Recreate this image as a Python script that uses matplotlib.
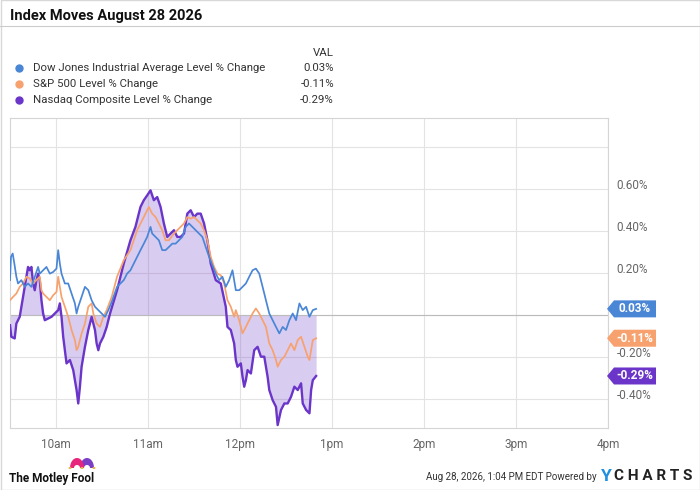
import matplotlib
matplotlib.use("Agg")
import numpy as np
import matplotlib.pyplot as plt
import matplotlib.transforms as mtransforms
from matplotlib.patches import Polygon, Rectangle, Circle
from matplotlib.lines import Line2D

plt.rcParams['font.family'] = ['Roboto', 'DejaVu Sans']

# minutes after 9:30 and % change
dow_min = [0, 0.65, 1.75, 2.84, 4.15, 5.24, 7.42, 9.6, 11.78, 13.96, 16.15, 18.33, 19.42, 21.6, 23.78,
           25.97, 28.15, 30.33, 31.42, 32.51, 33.6, 35.78, 37.97, 40.15, 42.33, 43.42, 44.51, 46.69,
           48.88, 51.06, 53.24, 55.42, 57.6, 59.79, 61.97, 64.15, 66.33, 69.82, 74.19, 76.37, 78.55,
           80.73, 82.91, 85.1, 87.28, 89.46, 91.64, 92.73, 94.92, 97.1, 99.28, 101.46, 103.64, 105.83,
           108.0, 110.19, 112.37, 114.55, 116.73, 118.92, 121.1, 123.28, 125.46, 127.64, 129.83, 132.0,
           134.19, 136.37, 138.55, 140.73, 142.92, 145.1, 147.28, 149.46, 151.65, 153.83, 156.01,
           158.19, 160.37, 162.56, 164.74, 166.92, 169.1, 171.28, 173.47, 175.65, 177.83, 180.01,
           182.19, 184.38, 186.56, 188.74, 190.92, 193.1, 195.29, 197.47, 199.65]
dow_pct = [0.167, 0.278, 0.294, 0.246, 0.183, 0.151, 0.167, 0.135, 0.151, 0.135, 0.183, 0.230, 0.198,
           0.214, 0.230, 0.198, 0.206, 0.222, 0.310, 0.246, 0.198, 0.151, 0.151, 0.103, 0.056, 0.008,
           0.040, 0.087, 0.135, 0.119, 0.071, 0.040, 0.024, 0.008, -0.008, 0.024, 0.063, 0.135, 0.167,
           0.198, 0.214, 0.246, 0.278, 0.310, 0.341, 0.373, 0.421, 0.389, 0.373, 0.357, 0.310, 0.310,
           0.325, 0.341, 0.341, 0.357, 0.373, 0.421, 0.437, 0.421, 0.405, 0.389, 0.373, 0.325, 0.278,
           0.238, 0.198, 0.167, 0.183, 0.135, 0.167, 0.214, 0.119, 0.119, 0.135, 0.151, 0.183, 0.214,
           0.222, 0.198, 0.135, 0.071, 0.008, -0.024, -0.056, -0.087, -0.056, -0.071, -0.024, 0.008,
           -0.024, 0.056, 0.024, 0.040, -0.008, 0.024, 0.03]

spx_min = [0, 1.96, 4.15, 6.33, 8.51, 10.69, 12.87, 15.06, 17.24, 19.42, 20.51, 21.6, 23.78, 25.97,
           28.15, 30.33, 31.42, 32.51, 33.6, 35.78, 37.97, 40.15, 42.33, 43.42, 44.51, 46.69, 48.88,
           51.06, 53.24, 54.33, 56.51, 58.69, 60.88, 63.06, 66.33, 69.82, 74.19, 78.55, 82.91, 87.28,
           90.55, 92.73, 94.92, 97.1, 99.28, 101.46, 103.64, 106.92, 109.1, 111.28, 113.46, 115.65,
           117.83, 120.01, 122.19, 124.37, 126.56, 128.74, 130.92, 133.1, 135.28, 137.47, 139.65,
           141.83, 144.01, 146.19, 147.28, 149.46, 151.65, 153.83, 156.01, 158.19, 160.37, 162.56,
           164.74, 166.92, 169.1, 171.28, 173.47, 174.56, 176.74, 178.92, 181.1, 183.28, 185.47,
           187.65, 189.83, 192.01, 194.19, 195.29, 196.38, 197.47, 199.65]
spx_pct = [0.071, 0.087, 0.103, 0.135, 0.151, 0.183, 0.175, 0.151, 0.167, 0.183, 0.119, 0.103, 0.087,
           0.071, 0.095, 0.111, 0.183, 0.135, 0.087, 0.040, -0.008, -0.071, -0.119, -0.167, -0.151,
           -0.087, -0.040, 0.040, 0.056, 0.008, -0.040, -0.056, -0.008, 0.024, 0.087, 0.183, 0.262,
           0.310, 0.405, 0.468, 0.516, 0.484, 0.468, 0.437, 0.405, 0.357, 0.357, 0.389, 0.405, 0.421,
           0.437, 0.468, 0.460, 0.468, 0.452, 0.437, 0.405, 0.357, 0.278, 0.230, 0.198, 0.190, 0.151,
           0.071, 0.040, -0.008, 0.024, -0.024, -0.087, -0.056, -0.024, 0.008, 0.032, 0.008, -0.024,
           -0.056, -0.135, -0.167, -0.214, -0.246, -0.214, -0.198, -0.167, -0.135, -0.167, -0.119,
           -0.103, -0.151, -0.198, -0.214, -0.167, -0.119, -0.11]

ndx_min = [0, 0.87, 3.05, 4.15, 6.33, 8.51, 10.69, 11.78, 12.87, 13.96, 15.06, 16.15, 17.24, 18.33,
           19.42, 20.51, 21.6, 22.69, 24.87, 27.06, 29.24, 31.42, 32.51, 33.6, 34.69, 35.78, 36.87,
           39.06, 41.24, 42.33, 43.42, 44.51, 45.6, 46.69, 48.88, 51.06, 53.24, 55.42, 56.51, 57.6,
           58.69, 60.88, 63.06, 65.24, 69.82, 74.19, 78.55, 81.82, 85.1, 87.28, 89.46, 91.64, 93.82,
           96.01, 98.19, 100.37, 102.55, 104.73, 106.92, 109.1, 111.28, 113.46, 115.65, 117.83,
           120.01, 122.19, 124.37, 126.56, 128.74, 130.92, 134.19, 137.47, 140.73, 141.83, 144.01,
           146.19, 147.28, 148.37, 150.55, 151.65, 152.74, 153.83, 154.92, 157.1, 159.28, 161.46,
           163.65, 165.83, 168.01, 169.1, 171.28, 173.47, 174.56, 176.74, 178.92, 181.1, 183.28,
           185.47, 187.65, 189.83, 190.92, 193.1, 195.29, 196.38, 197.47, 199.65]
ndx_pct = [-0.048, -0.103, -0.111, -0.040, -0.008, 0.087, 0.183, 0.230, 0.214, 0.230, 0.151, 0.119,
           0.167, 0.198, 0.167, 0.071, 0.008, -0.024, -0.016, -0.008, 0.008, 0.024, 0.056, -0.008,
           -0.103, -0.167, -0.230, -0.214, -0.262, -0.310, -0.357, -0.421, -0.341, -0.246, -0.151,
           -0.071, -0.008, -0.071, -0.135, -0.167, -0.135, -0.103, -0.056, 0.008, 0.119, 0.246, 0.357,
           0.421, 0.516, 0.548, 0.571, 0.595, 0.548, 0.563, 0.516, 0.437, 0.373, 0.389, 0.405, 0.373,
           0.373, 0.389, 0.484, 0.500, 0.468, 0.484, 0.484, 0.437, 0.357, 0.246, 0.167, 0.151, 0.040,
           -0.056, -0.071, -0.135, -0.214, -0.246, -0.230, -0.294, -0.341, -0.310, -0.262, -0.278,
           -0.167, -0.151, -0.198, -0.198, -0.294, -0.357, -0.405, -0.437, -0.524, -0.452, -0.421,
           -0.421, -0.389, -0.341, -0.357, -0.325, -0.421, -0.452, -0.468, -0.357, -0.310, -0.29]

names = ["Dow Jones Industrial Average Level % Change", "S&P 500 Level % Change",
         "Nasdaq Composite Level % Change"]
last_vals = ["0.03%", "-0.11%", "-0.29%"]
last_nums = [0.03, -0.11, -0.29]
colors = ["#4a86d6", "#f7a26e", "#6a35c8"]

hour_ticks = [30, 90, 150, 210, 270, 330, 390]
hour_labels = ["10am", "11am", "12pm", "1pm", "2pm", "3pm", "4pm"]
y_ticks = [-0.4, -0.2, 0.0, 0.2, 0.4, 0.6, 0.8]
y_labels = ["-0.40%", "-0.20%", "", "0.20%", "0.40%", "0.60%", ""]

W, H = 700, 490
fig = plt.figure(figsize=(7, 4.9), dpi=100)

def px(x, y):
    # image pixel (from top-left) -> figure fraction
    return x / W, 1 - y / H

# outer border + title rule
fig.add_artist(Rectangle((0.5 / W, 0.5 / H), 1 - 1 / W, 1 - 1 / H, transform=fig.transFigure,
                         fill=False, edgecolor="#d8d8d8", lw=1))
fig.add_artist(Line2D([0, 1], [1 - 26 / H] * 2, transform=fig.transFigure, color="#cccccc", lw=0.8))
fig.text(*px(10, 16), "Index Moves August 28 2026", fontsize=10.5, fontweight="bold",
         va="center", ha="left", color="#111111")

# legend
fig.text(*px(334, 53), "VAL", fontsize=8.2, ha="right", va="center", color="#333333")
for i, (nm, v, c) in enumerate(zip(names, last_vals, colors)):
    yy = 68 + i * 16
    fig.add_artist(Line2D([px(19, yy)[0]], [px(19, yy)[1]], marker="o", markersize=5,
                          color=c, transform=fig.transFigure))
    fig.text(*px(33, yy), nm, fontsize=8.2, ha="left", va="center", color="#333333")
    fig.text(*px(334, yy), v, fontsize=8.2, ha="right", va="center", color="#333333")

# main axes
ax = fig.add_axes([10 / W, (H - 428) / H, 598 / W, 310 / H])
ax.set_xlim(0, 390)
ax.set_ylim(-0.538, 0.94)

ax.fill_between(ndx_min, ndx_pct, 0, color="#6a35c8", alpha=0.25, lw=0)
ax.plot(ndx_min, ndx_pct, color=colors[2], lw=1.7, zorder=3)
ax.plot(spx_min, spx_pct, color=colors[1], lw=1.25, zorder=4)
ax.plot(dow_min, dow_pct, color=colors[0], lw=1.25, zorder=5)
ax.axhline(0, color="#bbbbbb", lw=0.8, zorder=1)

ax.set_xticks(hour_ticks)
ax.set_xticklabels(hour_labels)
ax.set_yticks(y_ticks)
ax.set_yticklabels(y_labels)
ax.yaxis.tick_right()
ax.tick_params(length=0, labelsize=8.5, labelcolor="#666666", pad=6)
ax.tick_params(axis="x", pad=7)
# y labels sit a little above their grid lines
lift = mtransforms.ScaledTranslation(0, 5 / 100, fig.dpi_scale_trans)
for lbl in ax.get_yticklabels():
    lbl.set_transform(lbl.get_transform() + lift)
ax.grid(True, color="#e3e3e3", lw=0.8, zorder=0)
ax.set_axisbelow(True)
for s in ax.spines.values():
    s.set_color("#d5d5d5")
    s.set_linewidth(0.8)

# value tags on the right
fig.canvas.draw()
for v, lab, c in zip(last_nums, last_vals, colors):
    yimg = H - ax.transData.transform((0, v))[1]
    hh = 8.5
    pts = [px(607, yimg), px(614, yimg - hh), px(656, yimg - hh), px(656, yimg + hh),
           px(614, yimg + hh)]
    fig.add_artist(Polygon(pts, closed=True, transform=fig.transFigure, facecolor=c,
                           edgecolor="none", zorder=10))
    fig.text(*px(635, yimg), lab, fontsize=8.5, fontweight="bold", color="white",
             ha="center", va="center", zorder=11)

# footer: Motley Fool with jester hat
fig.text(*px(9, 478), "The Motley Fool", fontsize=8.5, fontweight="bold", ha="left",
         va="center", color="#111111")
t = np.linspace(0, np.pi, 30)
for cx, col in ((87, "#7a3fc4"), (77, "#e8257d")):
    outer = [px(cx + 7 * np.cos(a), 468 - 10 * np.sin(a)) for a in t]
    inner = [px(cx + 3 * np.cos(a), 468 - 3 * np.sin(a)) for a in t[::-1]]
    fig.add_artist(Polygon(outer + inner, closed=True, transform=fig.transFigure,
                           facecolor=col, edgecolor="none"))
for bx in (70, 82, 94):
    fig.add_artist(Circle(px(bx, 468), 0.0022, transform=fig.transFigure,
                          facecolor="#e6b84a", edgecolor="none"))

# footer: timestamp + YCharts
fig.text(*px(597, 477), "Aug 28, 2026, 1:04 PM EDT Powered by", fontsize=7.0, ha="right",
         va="center", color="#333333")
fig.text(*px(601, 476), "Y", fontsize=12.5, fontweight="bold", ha="left", va="center",
         color="#1f8fe0")
fig.text(*px(614, 476), "C H A R T S", fontsize=11, fontweight="bold", ha="left", va="center",
         color="#222222")

fig.savefig("out.png", dpi=100)
